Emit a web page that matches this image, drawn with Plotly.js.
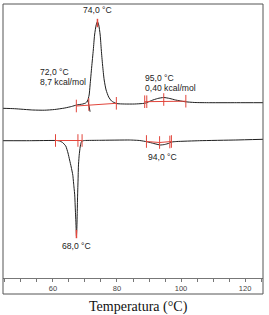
<!DOCTYPE html>
<html>
<head>
<meta charset="utf-8">
<script src="https://cdn.plot.ly/plotly-3.0.1.min.js"></script>
<style>html,body{margin:0;padding:0;background:#fff;}#chart{width:269px;height:315px;}</style>
</head>
<body>
<div id="chart"></div>
<script>
// Upper (heating) DSC trace
const upperT = [44.3,48.0,53.7,57.4,60.5,63.7,65.8,67.4,69.3,70.2,70.8,71.3,71.6,72.1,72.6,73.0,73.5,73.9,74.3,74.75,75.1,75.5,76.0,76.6,77.4,78.3,79.8,82.4,85.5,88.0,88.97,90.8,92.7,94.6,96.5,98.3,101.2,104.3,109.0,117.4,125.6];
const upperY = [170.7,170.3,169,168.8,169.5,171,172.5,174,175,176,178,184,194,212,229,244,254,257.3,254,244,229,214,199,189,182,178,175.5,175,175,175.5,176,178.5,180.5,181.5,180.5,179,177.3,176.5,176.3,176.3,176.3];
// Lower (cooling) DSC trace
const lowerT = [44.3,52.7,61.1,62.1,63.0,64.0,64.7,65.2,65.7,66.2,66.5,66.8,67.0,67.16,67.28,67.34,67.47,67.6,67.7,67.84,67.97,68.2,68.5,68.8,69.1,69.9,74.6,84.0,87.1,89.3,91.5,93.5,94.9,96.2,97.1,98.7,105.8,117.1,125.6];
const lowerY = [138.3,138.3,138.5,138,136.5,133,126,119,112,104,94,84,69,57,47,43,51,69,84,99,114,124,132,136.5,138,138.5,138.7,139,138.5,137.3,135.5,134,134.5,135.7,137,137.5,138.3,139,139.7];
// Integration baselines (red), segments separated by null
const baseT = [67.3,79.8,null,88.65,101.5,null,60.8,69.1,null,89.2,93.3,97.0];
const baseY = [173,175.7,null,177.3,177.8,null,138.5,138.5,null,137.5,136.5,137.5];
// Red limit ticks
const tickT = [67.3,71.2,79.8,88.65,89.3,94.6,101.5,60.8,67.8,69.1,89.2,93.3,96.5,97.0];
const tickY = [173,174.5,175.7,177.3,177.3,179.5,177.8,138.5,138.5,138.5,137.5,136.5,137,137.5];
// Peak tips
const tipT = [73.9,67.34];
const tipY = [256,45];
// Onset tangent
const tanT = [70.9,71.6];
const tanY = [179,167.3];
// Labels
const labText = ["74,0 °C","72,0 °C","8,7 kcal/mol","95,0 °C","0,40 kcal/mol","68,0 °C","94,0 °C"];
const labT = [73.9,55.3,55.3,88.1,88.1,67.4,94.1];
const labY = [269,207.3,197.3,200.7,191.3,33.3,122];
const labAnchor = ["center","left","left","left","left","center","center"];
const xTicks = [45,50,55,60,65,70,75,80,85,90,95,100,105,110,115,120,125];
const xTickText = xTicks.map(v => v % 20 === 0 ? String(v) : "");

const red = "#e2463c";
const traces = [
  {x: upperT, y: upperY, mode: "lines", line: {color: "#1e1e1e", width: 1, shape: "spline", smoothing: 0.6}, hoverinfo: "skip"},
  {x: lowerT, y: lowerY, mode: "lines", line: {color: "#1e1e1e", width: 1, shape: "spline", smoothing: 0.4}, hoverinfo: "skip"},
  {x: tanT, y: tanY, mode: "lines", line: {color: "#1e1e1e", width: 1}, hoverinfo: "skip"},
  {x: baseT, y: baseY, mode: "lines", line: {color: red, width: 1}, connectgaps: false, hoverinfo: "skip"},
  {x: tickT, y: tickY, mode: "markers", marker: {symbol: "line-ns", size: 9, color: red, line: {color: red, width: 1}}, hoverinfo: "skip"},
  {x: tipT, y: tipY, mode: "markers", marker: {symbol: "line-ns", size: 6, color: red, line: {color: red, width: 1.5}}, hoverinfo: "skip"}
];

const annotations = labText.map((t, i) => ({
  x: labT[i], y: labY[i], xref: "x", yref: "y", text: t, showarrow: false,
  xanchor: labAnchor[i], yanchor: "middle",
  font: {family: "Liberation Sans, Arial, sans-serif", size: 8.6, color: "#222"}
}));
annotations.push({
  x: 0.523, y: -0.106, xref: "paper", yref: "paper", text: "Temperatura (°C)", showarrow: false,
  xanchor: "center", yanchor: "middle",
  font: {family: "Liberation Serif, Times New Roman, serif", size: 14, color: "#111"}
});

const layout = {
  width: 269, height: 315,
  margin: {l: 3, r: 6, t: 4, b: 37, pad: 0},
  paper_bgcolor: "#fff", plot_bgcolor: "#fff",
  showlegend: false,
  xaxis: {
    range: [44.4, 125.6], showgrid: false, zeroline: false,
    showline: true, linecolor: "#777", linewidth: 1,
    tickmode: "array", tickvals: xTicks, ticktext: xTickText,
    ticks: "outside", ticklen: 3, tickcolor: "#777", tickwidth: 1,
    tickfont: {family: "Liberation Sans, Arial, sans-serif", size: 7.5, color: "#444"}
  },
  yaxis: {range: [1, 275], visible: false, showgrid: false, zeroline: false, fixedrange: true},
  shapes: [
    {type: "rect", xref: "paper", yref: "paper", x0: 0, x1: 1, y0: -0.0584, y1: 1, line: {color: "#555", width: 1}, fillcolor: "rgba(0,0,0,0)"}
  ],
  annotations: annotations
};

Plotly.newPlot("chart", traces, layout, {staticPlot: true, displayModeBar: false});
</script>
</body>
</html>
